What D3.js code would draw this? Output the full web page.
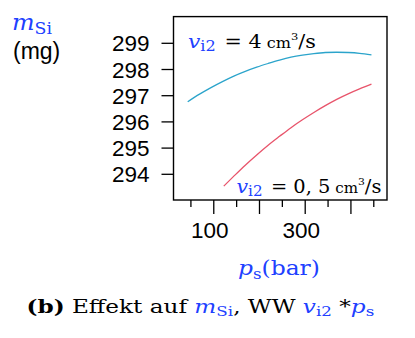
<!DOCTYPE html>
<html><head><meta charset="utf-8">
<script src="https://cdn.jsdelivr.net/npm/d3@7"></script>
<style>
html,body{margin:0;padding:0;background:#fff;}
svg{display:block;}
</style></head>
<body>
<script>
// ---- data ----
const psHigh = [44, 70, 95, 120, 145, 170, 195, 220, 245, 270, 295, 320, 345, 370, 395, 420, 446];
const mHigh  = [296.75, 297.04, 297.29, 297.52, 297.73, 297.91, 298.07, 298.21, 298.34, 298.45, 298.53, 298.59, 298.63, 298.64, 298.63, 298.60, 298.54];
const psLow  = [123, 145, 170, 195, 220, 245, 270, 295, 320, 345, 370, 395, 420, 446];
const mLow   = [293.53, 293.91, 294.33, 294.72, 295.09, 295.43, 295.76, 296.06, 296.34, 296.60, 296.84, 297.05, 297.24, 297.42];
const yTicks = [294, 295, 296, 297, 298, 299];
const xMajor = [100, 200, 300, 400];
const xMinor = [50, 150, 250, 350, 450];
const xLabels = {100: "100", 300: "300"};

const W = 415, H = 338;
const BLUE = "#2040ff";
const svg = d3.select("body").append("svg").attr("width", W).attr("height", H);

const x = d3.scaleLinear().domain([13, 480]).range([173.5, 387]);
const y = d3.scaleLinear().domain([293, 300]).range([200, 16.6]);

const sans = "'Liberation Sans', Arial, sans-serif";
const serif = "'DejaVu Serif', 'Liberation Serif', serif";

// y axis
const gy = svg.append("g").attr("transform", `translate(${x.range()[0]},0)`)
  .call(d3.axisLeft(y).tickValues(yTicks).tickSize(12).tickPadding(12).tickFormat(d3.format("d")));
gy.select(".domain").remove();
gy.selectAll("text").attr("font-family", sans).attr("font-size", 22.5).attr("fill", "#000").attr("dy", "0.36em");
gy.selectAll("line").attr("stroke", "#000").attr("stroke-width", 1.3);

// x axis
const gxMinor = svg.append("g").attr("transform", `translate(0,${y.range()[0]})`)
  .call(d3.axisBottom(x).tickValues(xMinor).tickSize(7).tickFormat(""));
gxMinor.select(".domain").remove();
gxMinor.selectAll("line").attr("stroke", "#000").attr("stroke-width", 1.3);

const gx = svg.append("g").attr("transform", `translate(0,${y.range()[0]})`)
  .call(d3.axisBottom(x).tickValues(xMajor).tickSize(14).tickPadding(8).tickFormat(d => xLabels[d] || ""));
gx.select(".domain").remove();
gx.selectAll("text").attr("font-family", sans).attr("font-size", 22.5).attr("fill", "#000").attr("dx", -4);
gx.selectAll("line").attr("stroke", "#000").attr("stroke-width", 1.3);

// lines
const line = d3.line().x(d => x(d[0])).y(d => y(d[1])).curve(d3.curveMonotoneX);
svg.append("path").datum(d3.zip(psHigh, mHigh)).attr("d", line)
  .attr("fill", "none").attr("stroke", "#2ba4cb").attr("stroke-width", 1.3);
svg.append("path").datum(d3.zip(psLow, mLow)).attr("d", line)
  .attr("fill", "none").attr("stroke", "#e8546b").attr("stroke-width", 1.3);

// frame
svg.append("rect").attr("x", x.range()[0]).attr("y", y.range()[1])
  .attr("width", x.range()[1] - x.range()[0]).attr("height", y.range()[0] - y.range()[1])
  .attr("fill", "none").attr("stroke", "#000").attr("stroke-width", 1.4);

// helper for rich text, fitted to a target width
function rich(g, xPos, yPos, parts, targetW) {
  const t = g.append("text").attr("x", xPos).attr("y", yPos).attr("font-family", serif);
  parts.forEach(p => {
    const ts = t.append("tspan").text(p.t)
      .attr("font-size", p.s).attr("fill", p.c || "#000");
    if (p.i) ts.attr("font-style", "italic");
    if (p.b) ts.attr("font-weight", "bold");
    if (p.dy) ts.attr("dy", p.dy);
    if (p.dx) ts.attr("dx", p.dx);
  });
  if (targetW) {
    const bb = t.node().getBBox();
    const k = targetW / bb.width;
    t.attr("transform", `translate(${bb.x},0) scale(${k},1) translate(${-bb.x},0)`);
  }
  return t;
}

// y title
rich(svg, 12, 30, [
  {t: "m", s: 22, i: true, c: BLUE},
  {t: "Si", s: 16, c: BLUE, dy: 4}
], 40);
svg.append("text").attr("x", 13).attr("y", 59).attr("font-family", sans)
  .attr("font-size", 23).attr("fill", "#000").text("(mg)");

// annotation top
rich(svg, 188, 48, [
  {t: "v", s: 19, i: true, c: BLUE},
  {t: "i2", s: 14, c: BLUE, dy: 3},
  {t: " = 4", s: 18, dy: -3, dx: 2},
  {t: " cm", s: 14},
  {t: "3", s: 10, dy: -8},
  {t: "/s", s: 18, dy: 8}
], 128);
// annotation bottom
rich(svg, 236.5, 193, [
  {t: "v", s: 19, i: true, c: BLUE},
  {t: "i2", s: 14, c: BLUE, dy: 3},
  {t: " = 0, 5", s: 18, dy: -3, dx: 2},
  {t: " cm", s: 14},
  {t: "3", s: 10, dy: -8},
  {t: "/s", s: 18, dy: 8}
], 145);

// x title
rich(svg, 238, 275, [
  {t: "p", s: 21, i: true, c: BLUE},
  {t: "s", s: 15, c: BLUE, dy: 4},
  {t: "(bar)", s: 21, c: BLUE, dy: -4}
], 82);

// caption
rich(svg, 26.5, 313, [
  {t: "(b)", s: 18, b: true},
  {t: " Effekt auf ", s: 18},
  {t: "m", s: 18, i: true, c: BLUE},
  {t: "Si", s: 13, c: BLUE, dy: 3},
  {t: ", WW ", s: 18, dy: -3},
  {t: "v", s: 18, i: true, c: BLUE},
  {t: "i2", s: 13, c: BLUE, dy: 3},
  {t: " *", s: 18, dy: -3},
  {t: "p", s: 18, i: true, c: BLUE},
  {t: "s", s: 13, c: BLUE, dy: 3}
], 348);
</script>
</body></html>
